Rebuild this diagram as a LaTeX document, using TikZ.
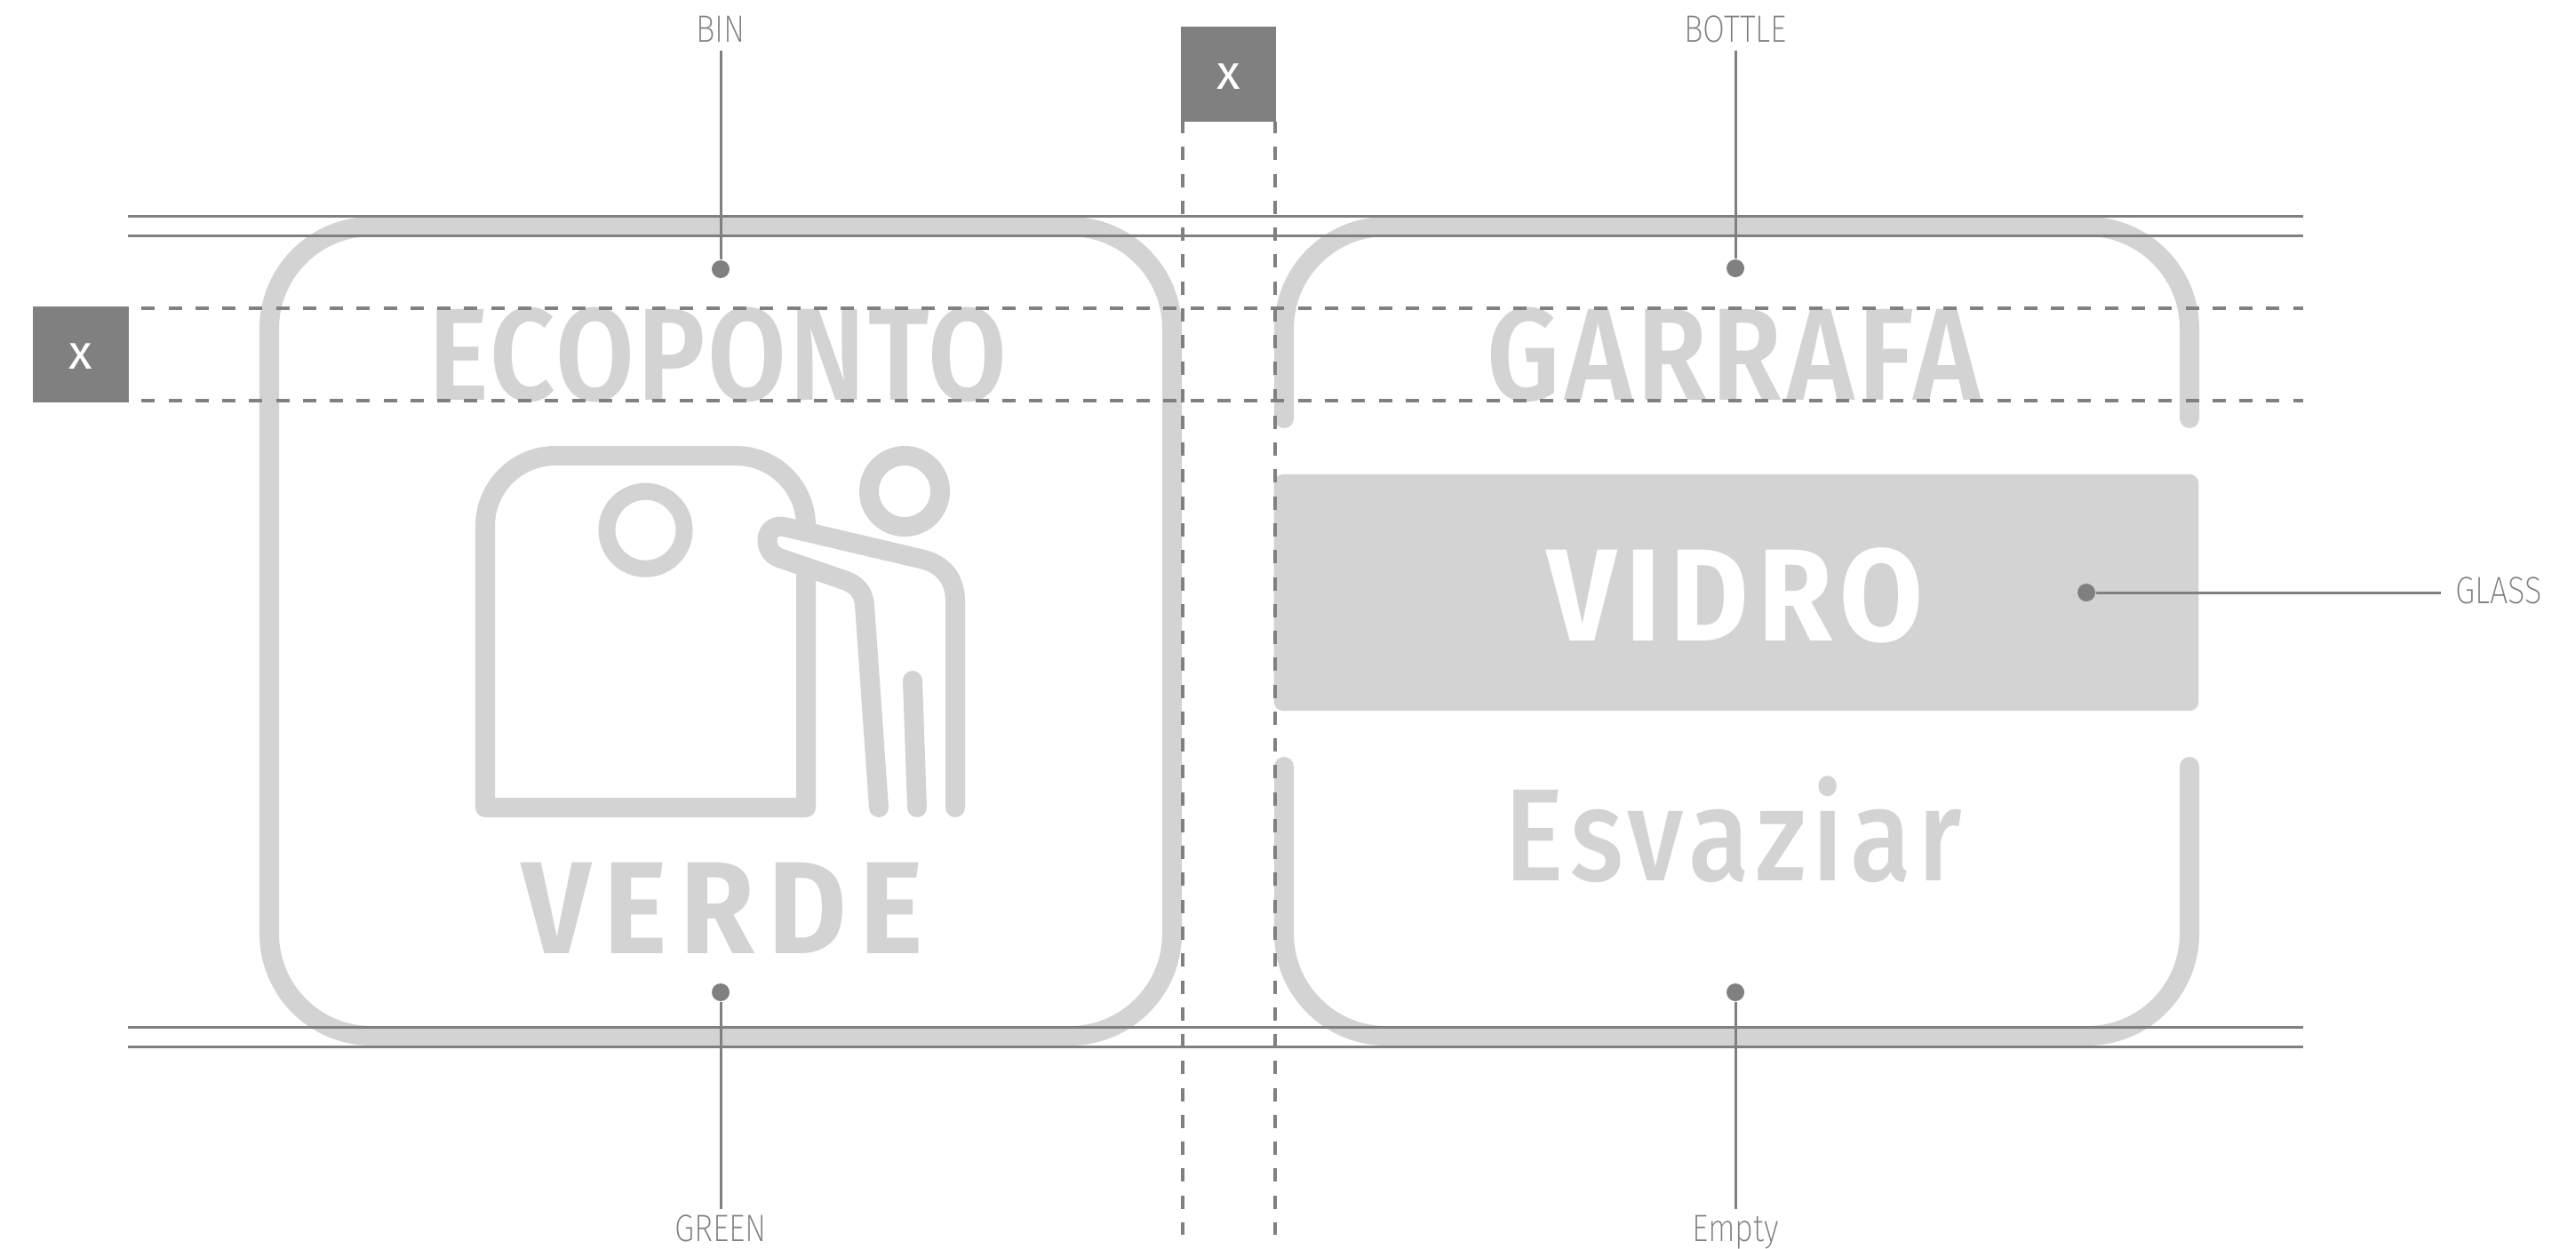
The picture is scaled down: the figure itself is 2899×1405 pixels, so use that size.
\documentclass[tikz,border=0pt]{standalone}
\usepackage{fontspec}
\usetikzlibrary{positioning}
\setmainfont{Fira Sans}
\newfontfamily\labelfont[FakeStretch=0.84]{Fira Sans ExtraLight}
\newfontfamily\signfont[FakeStretch=0.87]{Fira Sans SemiBold}
\newfontfamily\boldsignfont[FakeStretch=0.92]{Fira Sans}
\newfontfamily\thinsignfont[FakeStretch=0.85]{Fira Sans Medium}
\definecolor{signgray}{HTML}{D3D3D3}
\definecolor{guidegray}{HTML}{808080}

\begin{document}
\begin{tikzpicture}[
      x=0.01cm,y=-0.01cm,
      frame/.style={draw=signgray,line width=0.22cm},
      icon/.style={draw=signgray,line width=0.22cm,line join=round},
      signtext/.style={text=signgray,inner sep=0pt,font=\signfont\fontsize{42}{42}\selectfont\addfontfeature{LetterSpace=#1}},
      boldtext/.style={text=signgray,inner sep=0pt,font=\boldsignfont\bfseries\fontsize{42}{42}\selectfont\addfontfeature{LetterSpace=#1}},
      thintext/.style={text=signgray,inner sep=0pt,font=\thinsignfont\fontsize{42}{42}\selectfont\addfontfeature{LetterSpace=#1}},
      mydot/.style={circle,fill=guidegray,inner sep=0pt,minimum size=0.2cm},
      mylabel/.style={text=guidegray,inner xsep=0.16cm,inner ysep=0.09cm,text height=0.29cm,text depth=0pt,
         font=\labelfont\fontsize{12.2}{12.2}\selectfont},
      mymark/.style={fill=guidegray,text=white,inner sep=0pt,minimum width=1.07cm,minimum height=1.07cm,
         text height=0.33cm,text depth=0pt,font=\fontsize{15.5}{15.5}\selectfont},
      myline/.style={draw=guidegray,line width=0.03cm},
      myguide/.style={draw=guidegray,line width=0.03cm},
      mydash/.style={draw=guidegray,line width=0.033cm,dash pattern=on 0.15cm off 0.1525cm}
      ]
      \useasboundingbox (0,0) rectangle (2899,1405);

      % left sign
      \draw[frame,rounded corners=1.15cm] (303,255) rectangle (1319,1166);
      \node[signtext=2] (ecoponto) at (808,399) {ECOPONTO};
      \node[boldtext=10] (verde) at (813,1022) {VERDE};

      % bin and figure
      \draw[icon,rounded corners=0.79cm] (907,600) -- (907,513) -- (546,513) [sharp corners] -- (546,909) -- (907,909) -- (907,640);
      \draw[icon,line width=0.19cm] (726.5,596.7) circle (0.435cm);
      \draw[icon] (1018,553) circle (0.4cm);
      \draw[icon,line cap=round] (989,909) -- (973,681) .. controls (971.7,665) and (962,657) .. (950,653) -- (877,628)
         .. controls (857,621) and (859,587.4) .. (884,593.3) -- (1037,629.3) .. controls (1060,634.6) and (1075,650) .. (1075,677) -- (1075,909);
      \draw[icon,line cap=round] (1027,766) -- (1032,909);

      % right sign
      \draw[frame,line cap=round,rounded corners=1.15cm] (1445,471) -- (1445,255) -- (2464,255) -- (2464,471);
      \draw[frame,line cap=round,rounded corners=1.15cm] (1445,863) -- (1445,1166) -- (2464,1166) -- (2464,863);
      \node[fill=signgray,rounded corners=0.1cm,inner sep=0pt,minimum width=10.4cm,minimum height=2.66cm] (glassbar) at (1954,667) {};
      \node[signtext=3.7] (garrafa) at (1951.5,399) {GARRAFA};
      \node[boldtext=7,text=white] (vidro) at (1953,670) {VIDRO};
      \node[thintext=5] (esvaziar) at (1951,934) {Esvaziar};

      % guides
      \node[mymark] (markleft) at (91,399) {x};
      \node[mymark] (marktop) at (1382.7,83.5) {x};
      \foreach \y in {243,265,1156,1178}
         \draw[myguide] (144,\y) -- (2592,\y);
      \foreach \y in {347,451}
         \draw[mydash,dash phase=0.15cm] (144,\y) -- (2592,\y);
      \foreach \x in {1331,1435}
         \draw[mydash,dash phase=0.02cm] (\x,137) -- (\x,1390);

      \node[mydot] (bindot) at (811,303) {};
      \node[mydot] (bottledot) at (1953,302) {};
      \node[mydot] (greendot) at (811,1117) {};
      \node[mydot] (emptydot) at (1953,1117) {};
      \node[mydot] (glassdot) at (2348,667) {};

      \node[mylabel,above=2.35cm of bindot] (binlabel) {BIN};
      \node[mylabel,above=2.34cm of bottledot] (bottlelabel) {BOTTLE};
      \node[mylabel,inner ysep=0.07cm,below=2.33cm of greendot] (greenlabel) {GREEN};
      \node[mylabel,inner ysep=0.07cm,below=2.33cm of emptydot] (emptylabel) {Empty};
      \node[mylabel,text height=0.24cm,right=3.88cm of glassdot] (glasslabel) {GLASS};

      \foreach \i/\j in {binlabel/bindot,bottlelabel/bottledot,greenlabel/greendot,emptylabel/emptydot,glasslabel/glassdot}
         \draw[myline] (\i) -- (\j);
\end{tikzpicture}
\end{document}
